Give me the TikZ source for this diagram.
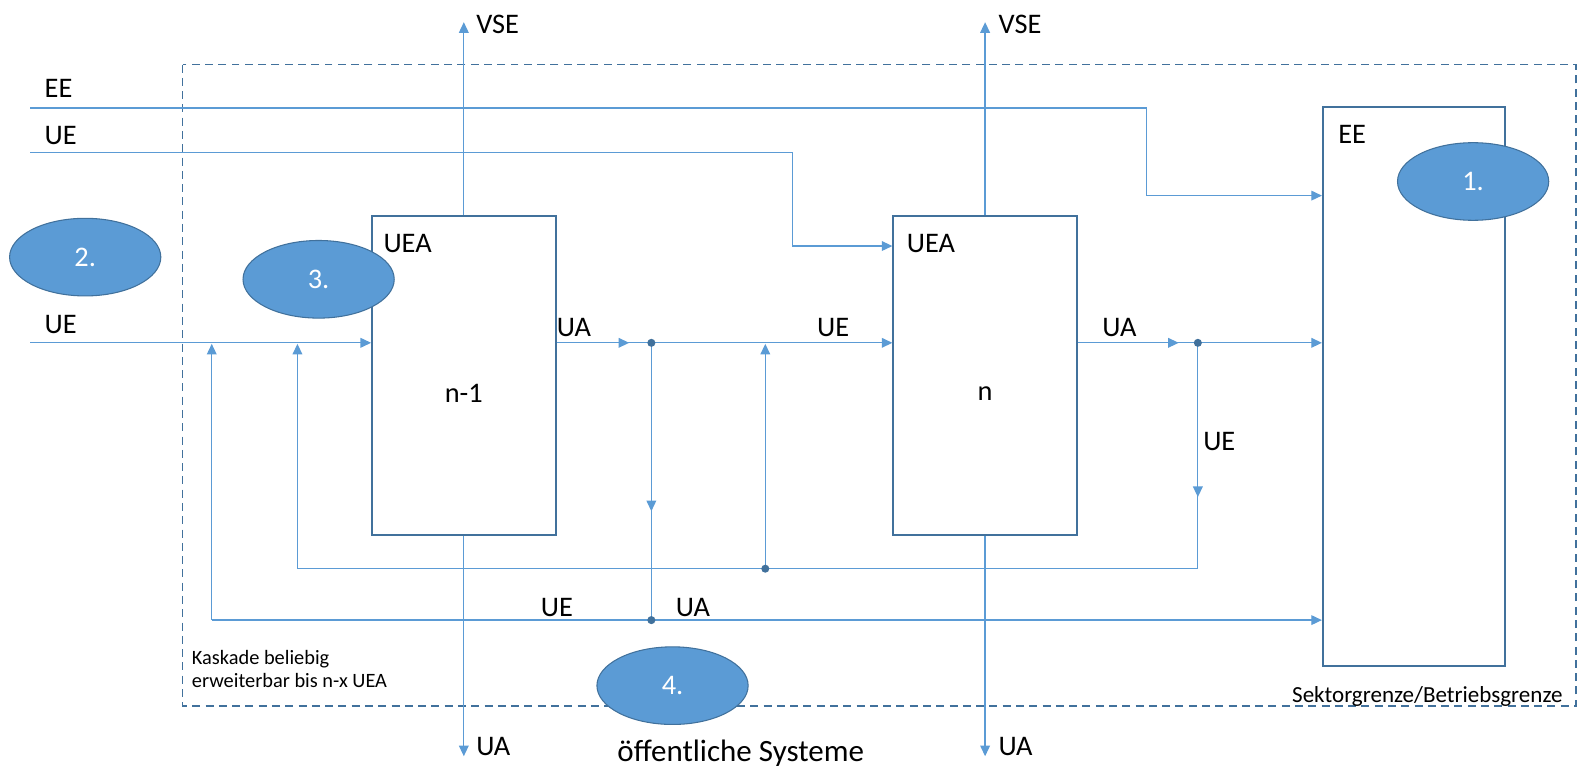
\documentclass[tikz,border=0pt]{standalone}
\usepackage{fontspec}
\setmainfont{Carlito}
\usetikzlibrary{arrows.meta,shapes.geometric}
\definecolor{flow}{HTML}{5B9BD5}
\definecolor{edge}{HTML}{41719C}
\tikzset{
  flowline/.style={draw=flow, line width=0.7pt},
  arr/.style={flowline, -{Triangle[length=6pt,width=5.5pt]}},
  unit/.style={draw=edge, line width=1.1pt, minimum width=3.64cm, minimum height=6.34cm, inner sep=0},
  badge/.style={ellipse, draw=edge, line width=0.6pt, fill=flow, text=white,
    font=\fontsize{16}{18}\selectfont, minimum width=3cm, minimum height=1.54cm, inner sep=0},
  lbl/.style={font=\fontsize{16}{18}\selectfont, inner sep=0, anchor=base west},
  note/.style={font=\fontsize{11.5}{14}\selectfont, inner sep=0, anchor=base west},
  junction/.style={circle, fill=edge, inner sep=0, minimum size=0.16cm},
  boundary/.style={draw=edge, line width=0.9pt, dash pattern=on 4.5pt off 3pt},
}
\begin{document}
\begin{tikzpicture}[x=0.02cm, y=-0.02cm]
\useasboundingbox (0,0) rectangle (1568,761);

% sector / plant boundary
\draw[boundary] (181,64) rectangle (1563,700);

% process units
\node[unit] (n1) at (460,372.5) {};
\node[unit] (nn) at (977,372.5) {};
\node[unit, minimum width=3.62cm, minimum height=11.1cm] (ee) at (1402.5,383.5) {};

% free ends and junctions
\coordinate (eeSrc) at (30,107);
\coordinate (ueTop) at (30,151);
\coordinate (ueSrc) at (30,340);
\coordinate (vse1) at (460,22);
\coordinate (vse2) at (977,22);
\coordinate (ua1) at (460,750);
\coordinate (ua2) at (977,750);
\coordinate (j1) at (646,340);
\coordinate (j2) at (1188,340);
\coordinate (j3) at (759,564);
\coordinate (j4) at (646,615);
\coordinate (cornerA) at (1188,564);
\coordinate (cornerB) at (295,564);
\coordinate (cornerC) at (210,615);

% outflows to VSE and UA
\draw[arr] (n1.north) -- (vse1);
\draw[arr] (nn.north) -- (vse2);
\draw[arr] (n1.south) -- (ua1);
\draw[arr] (nn.south) -- (ua2);

% external inflows
\draw[arr] (eeSrc) -| (1137,194) -- (ee.west |- 1137,194);
\draw[arr] (ueTop) -| (786,244) -- (nn.west |- 786,244);
\draw[arr] (ueSrc) -- (n1.west |- ueSrc);

% main chain n-1 -> n -> EE
\draw[flowline] (n1.east |- j1) -- (j1);
\draw[arr] (n1.east |- j1) -- (624,340);
\draw[arr] (j1) -- (nn.west |- j1);
\draw[flowline] (nn.east |- j2) -- (j2);
\draw[arr] (nn.east |- j2) -- (1169,340);
\draw[arr] (j2) -- (ee.west |- j2);

% return loop from n back to the inlet of n-1 and n
\draw[flowline] (j2) -- (cornerA) -- (cornerB);
\draw[arr] (j2) -- (1188,493);
\draw[arr] (cornerB) -- (295,341);
\draw[arr] (j3) -- (759,341);

% bypass from n-1 to EE and back to the inlet
\draw[flowline] (j1) -- (j4);
\draw[arr] (j1) -- (646,507);
\draw[arr] (cornerC) -- (ee.west |- cornerC);
\draw[arr] (cornerC) -- (210,341);

\foreach \j in {j1,j2,j3,j4} \node[junction] at (\j) {};

% labels
\node[lbl] (tVse1) at (472,33) {VSE};
\node[lbl] (tVse2) at (990,33) {VSE};
\node[lbl] (tEE) at (44,97) {EE};
\node[lbl] (tUE1) at (44,143) {UE};
\node[lbl] (tUE2) at (44,331) {UE};
\node[lbl] (tUEA1) at (380,250) {UEA};
\node[lbl] (tUEA2) at (899,250) {UEA};
\node[lbl] (tEEbox) at (1327,142) {EE};
\node[lbl] (tUA1) at (552,334) {UA};
\node[lbl] (tUE3) at (810,334) {UE};
\node[lbl] (tUA2) at (1093,334) {UA};
\node[lbl] (tUE4) at (1193,447) {UE};
\node[lbl] (tUE5) at (536,611) {UE};
\node[lbl] (tUA3) at (670,611) {UA};
\node[lbl] (tUA4) at (472,749) {UA};
\node[lbl] (tUA5) at (990,749) {UA};
\node[font=\fontsize{16}{18}\selectfont, inner sep=0] (tN1) at (460,390) {n-1};
\node[font=\fontsize{16}{18}\selectfont, inner sep=0] (tN) at (977,390) {n};
\node[note] (tCasc1) at (190,659) {Kaskade beliebig};
\node[note] (tCasc2) at (190,682) {erweiterbar bis n-x UEA};
\node[font=\fontsize{13}{15}\selectfont, inner sep=0, anchor=base east] (tBound) at (1550,697) {Sektorgrenze/Betriebsgrenze};
\node[font=\fontsize{17.5}{20}\selectfont, inner sep=0, anchor=base west] (tPub) at (612,755) {öffentliche Systeme};

% numbered markers
\node[badge] (m1) at (1461,180) {1.};
\node[badge] (m2) at (84.5,255) {2.};
\node[badge] (m3) at (316,277) {3.};
\node[badge] (m4) at (667,680) {4.};
\end{tikzpicture}
\end{document}
